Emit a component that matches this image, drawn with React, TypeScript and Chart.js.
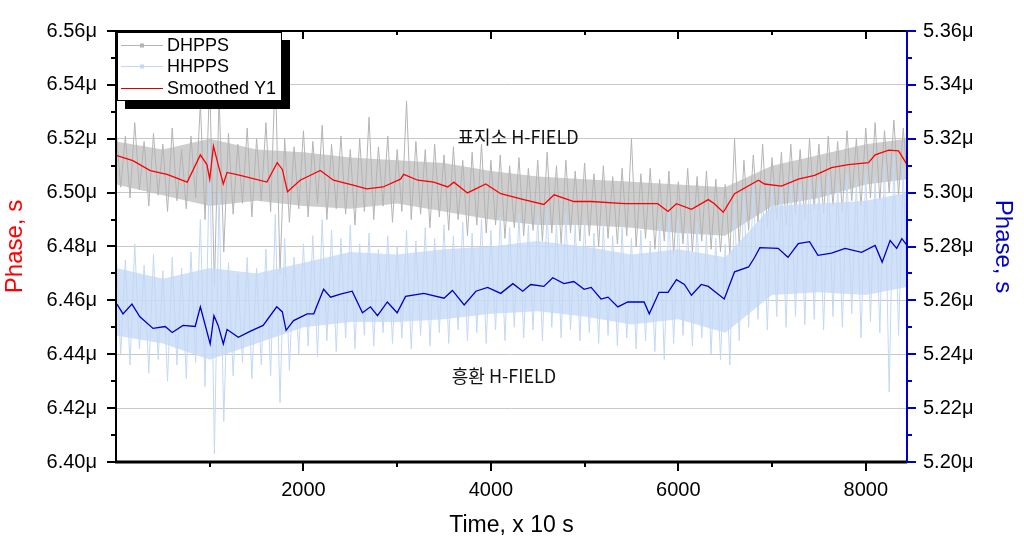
import React, { useEffect, useRef } from "react";
import { Chart, registerables } from "chart.js";
Chart.register(...registerables);

// ---- axes / ticks ----
const X_MIN = 0;
const X_MAX = 8440;
const xMajor = [2000, 4000, 6000, 8000];
const xMinor = [1000, 3000, 5000, 7000];
const leftMajor = [6.40, 6.42, 6.44, 6.46, 6.48, 6.50, 6.52, 6.54, 6.56];
const leftMinor = [6.41, 6.43, 6.45, 6.47, 6.49, 6.51, 6.53, 6.55];
const rightMajor = [5.20, 5.22, 5.24, 5.26, 5.28, 5.30, 5.32, 5.34, 5.36];
const rightMinor = [5.21, 5.23, 5.25, 5.27, 5.29, 5.31, 5.33, 5.35];

const seriesNames = ["DHPPS", "HHPPS", "Smoothed Y1"];
const annotations = [
  { text: "표지소 H-FIELD", x: 4290, y: 6.5205 },
  { text: "흥환 H-FIELD", x: 4140, y: 6.432 },
];

// ---- noisy raw series: outer envelope read every 100 units ----
const noiseX = [
  0, 100, 200, 300, 400, 500, 600, 700, 800, 900,
  1000, 1100, 1200, 1300, 1400, 1500, 1600, 1700, 1800, 1900,
  2000, 2100, 2200, 2300, 2400, 2500, 2600, 2700, 2800, 2900,
  3000, 3100, 3200, 3300, 3400, 3500, 3600, 3700, 3800, 3900,
  4000, 4100, 4200, 4300, 4400, 4500, 4600, 4700, 4800, 4900,
  5000, 5100, 5200, 5300, 5400, 5500, 5600, 5700, 5800, 5900,
  6000, 6100, 6200, 6300, 6400, 6500, 6600, 6700, 6800, 6900,
  7000, 7100, 7200, 7300, 7400, 7500, 7600, 7700, 7800, 7900,
  8000, 8100, 8200, 8300, 8400,
];
const dhppsHi = [
  6.524, 6.521, 6.526, 6.519, 6.522, 6.518, 6.524, 6.516, 6.521, 6.533,
  6.542, 6.536, 6.522, 6.518, 6.524, 6.520, 6.526, 6.546, 6.520, 6.517,
  6.523, 6.519, 6.525, 6.518, 6.521, 6.516, 6.520, 6.528, 6.517, 6.521,
  6.516, 6.534, 6.519, 6.516, 6.518, 6.514, 6.517, 6.512, 6.515, 6.518,
  6.512, 6.514, 6.510, 6.513, 6.509, 6.512, 6.515, 6.510, 6.512, 6.508,
  6.511, 6.507, 6.510, 6.506, 6.509, 6.520, 6.507, 6.509, 6.505, 6.508,
  6.504, 6.509, 6.506, 6.508, 6.505, 6.503, 6.520, 6.512, 6.514, 6.518,
  6.513, 6.515, 6.518, 6.516, 6.520, 6.518, 6.521, 6.519, 6.523, 6.520,
  6.524, 6.526, 6.523, 6.527, 6.524,
];
const dhppsLo = [
  6.502, 6.498, 6.501, 6.495, 6.499, 6.493, 6.497, 6.494, 6.498, 6.490,
  6.465, 6.478, 6.492, 6.496, 6.491, 6.497, 6.493, 6.470, 6.489, 6.494,
  6.491, 6.496, 6.490, 6.494, 6.492, 6.488, 6.493, 6.490, 6.495, 6.489,
  6.493, 6.490, 6.492, 6.487, 6.491, 6.486, 6.490, 6.484, 6.488, 6.485,
  6.488, 6.483, 6.487, 6.484, 6.486, 6.482, 6.485, 6.481, 6.485, 6.482,
  6.484, 6.480, 6.483, 6.481, 6.484, 6.480, 6.483, 6.479, 6.482, 6.477,
  6.481, 6.478, 6.482, 6.479, 6.478, 6.477, 6.480, 6.486, 6.489, 6.487,
  6.490, 6.488, 6.492, 6.490, 6.494, 6.492, 6.495, 6.493, 6.497, 6.495,
  6.498, 6.497, 6.500, 6.499, 6.502,
];
const hhppsHi = [
  5.279, 5.275, 5.281, 5.273, 5.277, 5.271, 5.276, 5.272, 5.278, 5.290,
  5.318, 5.300, 5.274, 5.270, 5.276, 5.272, 5.279, 5.292, 5.283, 5.276,
  5.281, 5.284, 5.290, 5.286, 5.283, 5.288, 5.281, 5.285, 5.279, 5.284,
  5.280, 5.286, 5.282, 5.287, 5.283, 5.288, 5.284, 5.289, 5.285, 5.290,
  5.286, 5.291, 5.287, 5.292, 5.288, 5.291, 5.294, 5.289, 5.292, 5.288,
  5.290, 5.285, 5.288, 5.284, 5.287, 5.283, 5.286, 5.282, 5.289, 5.293,
  5.290, 5.286, 5.289, 5.285, 5.283, 5.281, 5.296, 5.300, 5.304, 5.301,
  5.305, 5.302, 5.306, 5.303, 5.307, 5.304, 5.306, 5.303, 5.307, 5.304,
  5.308, 5.306, 5.311, 5.314, 5.309,
];
const hhppsLo = [
  5.240, 5.236, 5.242, 5.233, 5.238, 5.230, 5.236, 5.231, 5.237, 5.228,
  5.203, 5.215, 5.232, 5.237, 5.231, 5.236, 5.232, 5.222, 5.234, 5.240,
  5.243, 5.239, 5.245, 5.241, 5.246, 5.242, 5.247, 5.243, 5.248, 5.244,
  5.246, 5.242, 5.247, 5.243, 5.248, 5.244, 5.249, 5.245, 5.248, 5.244,
  5.249, 5.245, 5.250, 5.246, 5.249, 5.245, 5.250, 5.246, 5.249, 5.245,
  5.248, 5.244, 5.247, 5.243, 5.246, 5.242, 5.245, 5.241, 5.238, 5.244,
  5.247, 5.243, 5.246, 5.240, 5.238, 5.236, 5.245, 5.250, 5.253, 5.249,
  5.254, 5.250, 5.254, 5.251, 5.253, 5.249, 5.254, 5.250, 5.255, 5.246,
  5.252, 5.248, 5.226, 5.247, 5.252,
];

// ---- dense core of the noisy series, read every 500 units ----
const coreX = [0, 500, 1000, 1500, 2000, 2500, 3000, 3500, 4000, 4500, 5000, 5500, 6000, 6500, 7000, 7500, 8000, 8440];
const dhppsCoreHi = [6.519, 6.516, 6.520, 6.516, 6.515, 6.513, 6.512, 6.511, 6.508, 6.506, 6.505, 6.504, 6.503, 6.502, 6.510, 6.514, 6.518, 6.520];
const dhppsCoreLo = [6.503, 6.499, 6.495, 6.497, 6.495, 6.494, 6.496, 6.493, 6.490, 6.488, 6.488, 6.487, 6.485, 6.484, 6.495, 6.498, 6.503, 6.505];
const hhppsCoreHi = [5.272, 5.268, 5.272, 5.270, 5.274, 5.278, 5.277, 5.279, 5.280, 5.282, 5.280, 5.277, 5.279, 5.276, 5.295, 5.296, 5.297, 5.300];
const hhppsCoreLo = [5.247, 5.244, 5.238, 5.244, 5.250, 5.252, 5.252, 5.253, 5.255, 5.256, 5.254, 5.251, 5.253, 5.248, 5.262, 5.263, 5.262, 5.265];

// ---- smoothed series ----
const redX = [
  10, 180, 365, 545, 760, 900, 970, 1000, 1040, 1090,
  1145, 1185, 1325, 1610, 1720, 1775, 1830, 1965, 2180, 2320,
  2530, 2675, 2850, 3035, 3070, 3220, 3390, 3540, 3605, 3750,
  3945, 4105, 4350, 4565, 4675, 4885, 5070, 5425, 5780, 5890,
  5980, 6140, 6320, 6385, 6480, 6600, 6855, 6920, 7100, 7280,
  7455, 7635, 7815, 8030, 8100, 8245, 8350, 8440,
];
const redY = [
  6.5137, 6.5119, 6.5082, 6.5068, 6.5039, 6.5140, 6.5104, 6.5050, 6.5173, 6.5104,
  6.5032, 6.5075, 6.5064, 6.5039, 6.5111, 6.5086, 6.5003, 6.5046, 6.5082, 6.5046,
  6.5028, 6.5014, 6.5021, 6.5050, 6.5068, 6.5046, 6.5039, 6.5021, 6.5039, 6.4999,
  6.5032, 6.4996, 6.4974, 6.4956, 6.4992, 6.4967, 6.4967, 6.4959, 6.4959, 6.4930,
  6.4959, 6.4938, 6.4974, 6.4959, 6.4927, 6.4996, 6.5046, 6.5032, 6.5024, 6.5050,
  6.5064, 6.5093, 6.5104, 6.5111, 6.5140, 6.5158, 6.5155, 6.5104,
];
const blueX = [
  10, 75, 170, 255, 395, 525, 600, 715, 845, 900,
  1005, 1045, 1090, 1145, 1185, 1305, 1430, 1570, 1715, 1775,
  1815, 1895, 2040, 2110, 2215, 2290, 2395, 2520, 2630, 2715,
  2790, 2895, 3000, 3090, 3285, 3500, 3590, 3715, 3840, 3965,
  4105, 4235, 4340, 4425, 4565, 4660, 4780, 4885, 4995, 5070,
  5175, 5250, 5355, 5460, 5635, 5690, 5795, 5890, 5980, 6065,
  6140, 6245, 6320, 6385, 6490, 6600, 6750, 6815, 6870, 7065,
  7170, 7280, 7400, 7490, 7635, 7780, 7955, 8100, 8175, 8260,
  8330, 8385, 8440,
];
const blueY = [
  5.2586, 5.2550, 5.2586, 5.2539, 5.2496, 5.2503, 5.2481, 5.2507, 5.2503, 5.2576,
  5.2438, 5.2543, 5.2507, 5.2438, 5.2492, 5.2463, 5.2485, 5.2507, 5.2576, 5.2557,
  5.2489, 5.2525, 5.2550, 5.2550, 5.2641, 5.2612, 5.2623, 5.2634, 5.2554, 5.2576,
  5.2543, 5.2594, 5.2554, 5.2615, 5.2626, 5.2608, 5.2637, 5.2583, 5.2634, 5.2648,
  5.2626, 5.2662, 5.2634, 5.2659, 5.2652, 5.2684, 5.2662, 5.2670, 5.2641, 5.2648,
  5.2605, 5.2612, 5.2576, 5.2594, 5.2594, 5.2550, 5.2630, 5.2630, 5.2677, 5.2659,
  5.2619, 5.2659, 5.2652, 5.2634, 5.2605, 5.2706, 5.2724, 5.2760, 5.2796, 5.2793,
  5.2760, 5.2811, 5.2818, 5.2767, 5.2775, 5.2793, 5.2778, 5.2804, 5.2742, 5.2822,
  5.2793, 5.2829, 5.2804,
];

const COLORS = {
  gray: "#b4b4b4",
  grayFill: "rgba(190,190,190,0.75)",
  lightBlue: "#c3d8f5",
  lightBlueFill: "rgba(200,220,247,0.85)",
  red: "#ff0000",
  blue: "#0000c8",
  axisBlue: "#0000cc",
};
const FONT = "'Liberation Sans', Arial, sans-serif";
const KFONT = "'Noto Sans CJK KR', 'Noto Sans', sans-serif";

function zigzag(xs: number[], hi: number[], lo: number[]) {
  const pts: { x: number; y: number }[] = [];
  xs.forEach((x, i) => {
    pts.push({ x, y: hi[i] });
    pts.push({ x: x + 50, y: lo[i] });
  });
  return pts;
}
function pairs(xs: number[], ys: number[]) {
  return xs.map((x, i) => ({ x, y: ys[i] }));
}

const framePlugin = {
  id: "frame",
  afterDraw(chart: any) {
    const { ctx, chartArea, scales } = chart;
    const { left, right, top, bottom } = chartArea;
    const sx = scales.x, sy = scales.y, sy1 = scales.y1;
    ctx.save();
    const seg = (x1: number, y1: number, x2: number, y2: number) => {
      ctx.beginPath();
      ctx.moveTo(x1, y1);
      ctx.lineTo(x2, y2);
      ctx.stroke();
    };
    ctx.lineWidth = 2;
    ctx.strokeStyle = "#000";
    xMajor.forEach((v) => {
      const p = Math.round(sx.getPixelForValue(v));
      seg(p, bottom, p, bottom + 9);
      seg(p, top, p, top + 8);
    });
    xMinor.forEach((v) => {
      const p = Math.round(sx.getPixelForValue(v));
      seg(p, bottom, p, bottom + 5);
      seg(p, top, p, top + 4);
    });
    leftMajor.forEach((v) => {
      const p = Math.round(sy.getPixelForValue(v));
      seg(left - 9, p, left, p);
    });
    leftMinor.forEach((v) => {
      const p = Math.round(sy.getPixelForValue(v));
      seg(left - 5, p, left, p);
    });
    ctx.strokeStyle = COLORS.axisBlue;
    rightMajor.forEach((v) => {
      const p = Math.round(sy1.getPixelForValue(v));
      seg(right, p, right + 9, p);
    });
    rightMinor.forEach((v) => {
      const p = Math.round(sy1.getPixelForValue(v));
      seg(right, p, right + 5, p);
    });
    // frame
    ctx.strokeStyle = "#000";
    ctx.lineWidth = 2;
    seg(left - 1, top, right, top);
    seg(left, top, left, bottom);
    ctx.lineWidth = 3;
    seg(left - 1, bottom, right, bottom);
    ctx.strokeStyle = COLORS.axisBlue;
    ctx.lineWidth = 2;
    seg(right, top - 1, right, bottom + 1);

    // annotations
    ctx.fillStyle = "#111";
    ctx.font = `18px ${KFONT}`;
    ctx.textAlign = "center";
    ctx.textBaseline = "middle";
    annotations.forEach((a) => {
      ctx.fillText(a.text, sx.getPixelForValue(a.x), sy.getPixelForValue(a.y));
    });

    // legend
    const lx = left + 1, ly = top + 1, lw = 165, lh = 69;
    ctx.fillStyle = "#000";
    ctx.fillRect(lx + 8, ly + 8, lw, lh);
    ctx.fillStyle = "#fff";
    ctx.fillRect(lx, ly, lw, lh);
    ctx.strokeStyle = "#000";
    ctx.lineWidth = 1;
    ctx.strokeRect(lx + 0.5, ly + 0.5, lw - 1, lh - 1);
    const entryColors = [COLORS.gray, COLORS.lightBlue, "#e00000"];
    const rows = [13, 34, 56];
    ctx.font = `18px ${FONT}`;
    ctx.textAlign = "left";
    ctx.textBaseline = "middle";
    seriesNames.forEach((name, i) => {
      const y = ly + rows[i];
      ctx.strokeStyle = entryColors[i];
      ctx.lineWidth = 1;
      seg(lx + 4, y + 0.5, lx + 46, y + 0.5);
      if (i < 2) {
        ctx.fillStyle = entryColors[i];
        ctx.fillRect(lx + 23, y - 1.5, 4, 4);
      }
      ctx.fillStyle = "#000";
      ctx.fillText(name, lx + 50, y + 1);
    });
    ctx.restore();
  },
};

export default function App() {
  const ref = useRef<HTMLCanvasElement>(null);
  useEffect(() => {
    document.body.style.margin = "0";
    const canvas = ref.current!;
    const chart = new Chart(canvas, {
      type: "line",
      data: {
        datasets: [
          {
            label: seriesNames[0],
            data: zigzag(noiseX, dhppsHi, dhppsLo),
            borderColor: COLORS.gray,
            borderWidth: 1,
            pointRadius: 0,
            yAxisID: "y",
            order: 5,
          },
          {
            label: seriesNames[1],
            data: zigzag(noiseX, hhppsHi, hhppsLo),
            borderColor: COLORS.lightBlue,
            borderWidth: 1,
            pointRadius: 0,
            yAxisID: "y1",
            order: 3,
          },
          {
            label: seriesNames[2],
            data: pairs(redX, redY),
            borderColor: COLORS.red,
            borderWidth: 1.3,
            pointRadius: 0,
            yAxisID: "y",
            order: 2,
          },
          {
            label: "Smoothed Y2",
            data: pairs(blueX, blueY),
            borderColor: COLORS.blue,
            borderWidth: 1.3,
            pointRadius: 0,
            yAxisID: "y1",
            order: 1,
          },
          {
            label: "DHPPS core hi",
            data: pairs(coreX, dhppsCoreHi),
            borderWidth: 0,
            borderColor: "rgba(0,0,0,0)",
            pointRadius: 0,
            yAxisID: "y",
            fill: false,
            order: 7,
          },
          {
            label: "DHPPS core lo",
            data: pairs(coreX, dhppsCoreLo),
            borderWidth: 0,
            borderColor: "rgba(0,0,0,0)",
            backgroundColor: COLORS.grayFill,
            pointRadius: 0,
            yAxisID: "y",
            fill: "-1",
            order: 6,
          },
          {
            label: "HHPPS core hi",
            data: pairs(coreX, hhppsCoreHi),
            borderWidth: 0,
            borderColor: "rgba(0,0,0,0)",
            pointRadius: 0,
            yAxisID: "y1",
            fill: false,
            order: 7,
          },
          {
            label: "HHPPS core lo",
            data: pairs(coreX, hhppsCoreLo),
            borderWidth: 0,
            borderColor: "rgba(0,0,0,0)",
            backgroundColor: COLORS.lightBlueFill,
            pointRadius: 0,
            yAxisID: "y1",
            fill: "-1",
            order: 4,
          },
        ],
      },
      options: {
        responsive: false,
        maintainAspectRatio: false,
        animation: false,
        parsing: false as any,
        layout: { padding: { top: 20, left: 0, right: 0, bottom: 0 } },
        plugins: { legend: { display: false }, tooltip: { enabled: false } },
        scales: {
          x: {
            type: "linear",
            min: X_MIN,
            max: X_MAX,
            afterBuildTicks: (s: any) => {
              s.ticks = xMajor.map((v) => ({ value: v }));
            },
            afterFit: (s: any) => {
              s.height = 89;
            },
            grid: { display: false, drawTicks: false },
            border: { display: false },
            ticks: {
              color: "#000",
              font: { family: FONT, size: 20 },
              padding: 16,
              maxRotation: 0,
              callback: (v: any) => String(v),
            },
            title: {
              display: true,
              text: "Time, x 10 s",
              color: "#000",
              font: { family: FONT, size: 23 },
              padding: { top: 0, bottom: 12 },
            },
          },
          y: {
            type: "linear",
            position: "left",
            min: 6.40,
            max: 6.56,
            afterBuildTicks: (s: any) => {
              s.ticks = leftMajor.map((v) => ({ value: v }));
            },
            afterFit: (s: any) => {
              s.width = 116;
            },
            grid: { color: "#c8c8c8", drawTicks: false, lineWidth: 1 },
            border: { display: false },
            ticks: {
              color: "#000",
              font: { family: FONT, size: 20 },
              padding: 19,
              callback: (v: any) => Number(v).toFixed(2) + "μ",
            },
            title: {
              display: true,
              text: "Phase, s",
              color: "#ff0000",
              font: { family: FONT, size: 24 },
              padding: { top: 1, bottom: 0 },
            },
          },
          y1: {
            type: "linear",
            position: "right",
            min: 5.20,
            max: 5.36,
            afterBuildTicks: (s: any) => {
              s.ticks = rightMajor.map((v) => ({ value: v }));
            },
            afterFit: (s: any) => {
              s.width = 117;
            },
            grid: { drawOnChartArea: false, drawTicks: false },
            border: { display: false },
            ticks: {
              color: "#000",
              font: { family: FONT, size: 20 },
              padding: 16,
              callback: (v: any) => Number(v).toFixed(2) + "μ",
            },
            title: {
              display: true,
              text: "Phase, s",
              color: COLORS.axisBlue,
              font: { family: FONT, size: 24 },
              padding: { top: 7, bottom: 0 },
            },
          },
        },
      },
      plugins: [framePlugin],
    } as any);
    return () => chart.destroy();
  }, []);
  return (
    <canvas
      ref={ref}
      width={1024}
      height={551}
      style={{ display: "block", width: 1024, height: 551 }}
    />
  );
}
